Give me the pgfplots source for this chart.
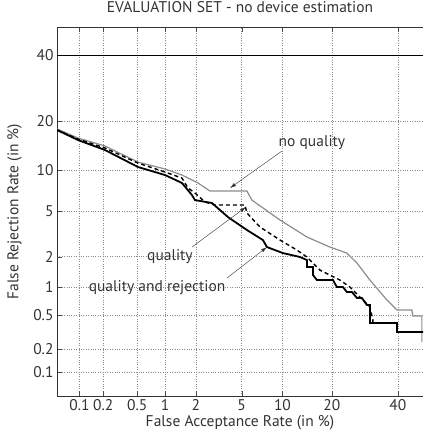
\documentclass[border=0pt]{standalone}
\usepackage{fontspec}
\setmainfont{PT Sans}
\usepackage{pgfplots}
\pgfplotsset{compat=1.18}
\usetikzlibrary{arrows.meta}

% DET plot: both axes are normal deviates (probit of the rate)
\newcommand{\lblfont}{\fontsize{15.5}{17}\selectfont}
\newcommand{\tl}[1]{\textnormal{#1}}

\begin{document}
\begin{tikzpicture}
\useasboundingbox (0pt,0pt) rectangle (423pt,433pt);
\begin{axis}[
  at={(57pt,37pt)}, anchor=south west,
  scale only axis, width=366pt, height=369pt,
  xmin=-3.29, xmax=-0.03, ymin=-3.30, ymax=0,
  axis line style={draw=none},
  xtick={-3.0902,-2.8782,-2.5758,-2.3263,-2.0537,-1.6449,-1.2816,-0.8416,-0.2533},
  xticklabels={\tl{0.1},\tl{0.2},\tl{0.5},\tl{1},\tl{2},\tl{5},\tl{10},\tl{20},\tl{40}},
  ytick={-3.0902,-2.8782,-2.5758,-2.3263,-2.0537,-1.6449,-1.2816,-0.8416,-0.2533},
  yticklabels={\tl{0.1},\tl{0.2},\tl{0.5},\tl{1},\tl{2},\tl{5},\tl{10},\tl{20},\tl{40}},
  ytick pos=left,
  major tick length=5pt,
  tick style={black!70},
  tick label style={font=\lblfont, text=black!80},
  xticklabel style={anchor=base, yshift=-14pt},
  grid=major,
  major grid style={dotted, black!45, line width=0.6pt},
  title={EVALUATION SET - no device estimation},
  title style={font=\lblfont, text=black!80, at={(0.5,1)}, anchor=base, yshift=8.5pt, inner sep=0pt},
  xlabel={False Acceptance Rate (in \%)},
  xlabel style={font=\lblfont, text=black!80, at={(axis description cs:0.5,0)}, anchor=base, yshift=-30pt},
  ylabel={False Rejection Rate (in \%)},
  ylabel style={font=\lblfont, text=black!80, at={(axis description cs:-0.1052,0.5)}, anchor=base},
]
% frame: left, top and bottom (right edge is cut off in the reference)
\draw[black!80, line width=0.8pt] (rel axis cs:1,0) -- (rel axis cs:0,0) -- (rel axis cs:0,1) -- (rel axis cs:1,1);

% 40 % reference line
\addplot[black, line width=0.8pt] coordinates {(-3.29,-0.2533) (-0.03,-0.2533)};

% no quality
\addplot[black!45, line width=1.2pt] coordinates {
  (-3.290,-0.912) (-3.103,-0.993) (-2.863,-1.064) (-2.569,-1.208)
  (-2.328,-1.270) (-2.177,-1.324) (-2.034,-1.395) (-1.928,-1.467)
  (-1.598,-1.467) (-1.554,-1.548) (-1.304,-1.726) (-1.064,-1.878)
  (-0.859,-1.968) (-0.708,-2.022) (-0.618,-2.111) (-0.503,-2.263)
  (-0.351,-2.442) (-0.262,-2.531) (-0.129,-2.531) (-0.120,-2.585)
  (-0.040,-2.585) (-0.040,-2.818)
};

% quality
\addplot[black, line width=1.4pt, dash pattern=on 4pt off 3pt] coordinates {
  (-3.290,-0.921) (-3.103,-1.002) (-2.863,-1.082) (-2.569,-1.217)
  (-2.328,-1.297) (-2.177,-1.351) (-2.123,-1.440) (-2.061,-1.485)
  (-1.972,-1.565) (-1.883,-1.592) (-1.616,-1.592) (-1.598,-1.664)
  (-1.482,-1.789) (-1.304,-1.905) (-1.153,-1.995) (-1.064,-2.057)
  (-0.948,-2.174) (-0.770,-2.263) (-0.681,-2.326) (-0.565,-2.442)
  (-0.503,-2.505) (-0.476,-2.621) (-0.476,-2.648) (-0.262,-2.648)
  (-0.262,-2.728) (-0.030,-2.728)
};

% quality and rejection
\addplot[black, line width=1.8pt] coordinates {
  (-3.290,-0.921) (-3.103,-1.011) (-2.863,-1.100) (-2.569,-1.252)
  (-2.328,-1.324) (-2.177,-1.395) (-2.088,-1.503) (-2.061,-1.548)
  (-1.910,-1.574) (-1.767,-1.700) (-1.598,-1.816) (-1.456,-1.905)
  (-1.420,-1.968) (-1.277,-2.022) (-1.126,-2.057) (-1.064,-2.084)
  (-1.064,-2.147) (-1.010,-2.147) (-1.010,-2.218) (-0.975,-2.263)
  (-0.832,-2.263) (-0.797,-2.326) (-0.743,-2.326) (-0.708,-2.370)
  (-0.663,-2.370) (-0.618,-2.424) (-0.574,-2.424) (-0.529,-2.487)
  (-0.503,-2.487) (-0.503,-2.648) (-0.262,-2.648) (-0.262,-2.728)
  (-0.030,-2.728)
};

% annotations
\node[font=\lblfont, text=black!80] at (axis cs:-1.019,-1.038) {no quality};
\draw[black!80, -{Latex[length=6pt,width=3.5pt]}] (axis cs:-1.286,-1.109) -- (axis cs:-1.749,-1.440);
\node[font=\lblfont, text=black!80] at (axis cs:-2.284,-2.057) {quality};
\draw[black!80, -{Latex[length=6pt,width=3.5pt]}] (axis cs:-2.088,-1.968) -- (axis cs:-1.607,-1.610);
\node[font=\lblfont, text=black!80] at (axis cs:-2.399,-2.335) {quality and rejection};
\draw[black!80, -{Latex[length=6pt,width=3.5pt]}] (axis cs:-1.776,-2.245) -- (axis cs:-1.420,-1.968);
\end{axis}
\end{tikzpicture}
\end{document}
